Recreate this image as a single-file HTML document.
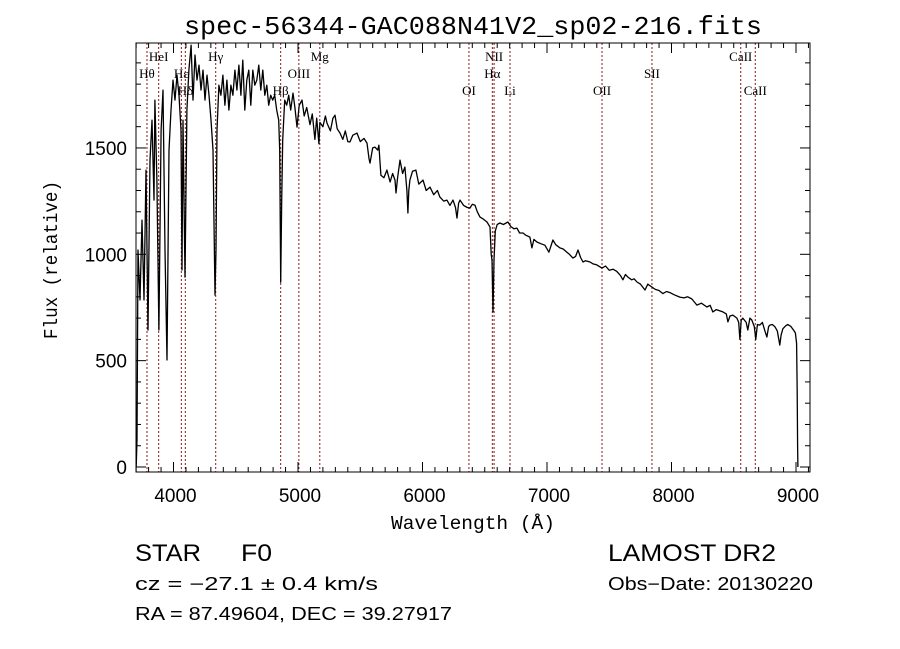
<!DOCTYPE html>
<html><head><meta charset="utf-8"><style>
html,body{margin:0;padding:0;background:#fff;width:900px;height:649px;overflow:hidden}
svg{display:block}
text{font-family:"Liberation Sans",sans-serif;fill:#000}
</style></head><body>
<svg id="chart" width="900" height="649" viewBox="0 0 900 649"></svg>
<script>
// ---- data ----
const wavelengths = [3700,3707,3715,3731,3747,3763,3779,3795,3811,3827,3843,3851,3867,3883,3900,3916,3932,3948,3964,3980,3996,4012,4028,4044,4060,4068,4076,4092,4108,4124,4141,4157,4173,4189,4205,4221,4237,4253,4269,4285,4301,4317,4333,4341,4349,4365,4381,4397,4413,4429,4445,4461,4477,4493,4509,4525,4541,4557,4573,4589,4605,4621,4637,4653,4669,4685,4701,4717,4733,4749,4765,4781,4797,4813,4829,4845,4853,4861,4869,4877,4893,4909,4925,4941,
4960,4975,4992,5010,5032,5050,5070,5096,5115,5136,5150,5168,5176,5200,5220,5233,5260,5280,5297,5315,5337,5360,5380,5400,5417,5440,5474,5500,5530,5554,5570,5578,5600,5618,5640,5650,5660,5666,5690,5714,5740,5760,5779,5787,5800,5819,5840,5859,5875,5883,5890,5899,5920,5947,5970,6004,6030,6060,6090,6120,6140,6170,6196,6220,6245,6265,6277,6290,6301,6330,6360,6381,6400,6422,6440,6462,6490,6518,6542,6552,6558,6566,6574,6585,6600,6622,6650,6686,6710,6735,6758,6780,6807,6830,6863,6879,6895,6919,6950,6983,7015,7047,7070,7104,7130,7160,7180,7208,7230,7249,7270,7289,7310,7345,7370,7400,7442,7470,7500,7530,7560,7590,7610,7630,7650,7680,7700,7723,7750,7787,7810,7843,7870,7900,7931,7960,7987,8020,8067,8100,8130,8164,8204,8240,8284,8310,8332,8360,8413,8440,8453,8470,8493,8525,8540,8549,8560,8573,8600,8613,8630,8645,8665,8677,8690,8709,8730,8750,8766,8780,8790,8810,8830,8850,8870,8880,8895,8920,8935,8960,8985,8995,9005,9010,9013,9015];
const fluxes = [0,127,1020,785,1161,785,1396,644,1443,1631,1255,1725,1349,644,1584,1772,1020,503,1490,1678,1819,1725,1842,1748,1584,926,1631,893,1678,1866,1983,1725,1937,1819,1889,1772,1866,1725,1842,1748,1631,1490,808,1020,1584,1795,1748,1842,1701,1819,1678,1795,1748,1866,1772,1889,1748,1913,1678,1819,1866,1701,1866,1795,1819,1889,1772,1866,1748,1795,1701,1748,1725,1748,1678,1631,1490,869,1255,1537,1725,1701,1748,1678,
1758,1690,1598,1700,1725,1650,1690,1610,1660,1540,1640,1520,1620,1600,1650,1617,1580,1640,1654,1590,1570,1540,1580,1530,1528,1560,1570,1530,1545,1523,1450,1429,1500,1504,1490,1513,1420,1372,1360,1396,1340,1380,1349,1288,1360,1443,1380,1410,1300,1194,1300,1349,1390,1396,1330,1349,1300,1316,1280,1300,1269,1250,1255,1230,1255,1220,1170,1240,1255,1230,1220,1217,1235,1231,1200,1175,1165,1152,1128,1000,973,729,973,1110,1140,1147,1140,1152,1130,1120,1123,1100,1100,1090,1081,1030,1070,1058,1050,1043,1010,1067,1045,1030,1025,1010,1000,982,990,1020,985,964,970,964,955,950,935,945,925,930,920,900,880,905,893,880,885,870,860,832,860,846,835,830,815,825,820,810,799,795,800,790,761,770,752,760,729,740,729,720,682,710,714,700,680,600,690,700,680,644,700,691,660,600,670,667,680,640,611,660,667,670,660,640,573,620,650,665,670,660,640,630,580,350,100,0];
const xTicks = [4000,5000,6000,7000,8000,9000];
const yTicks = [0,500,1000,1500];
const lineLabels = ["Hθ","HeI","Hε","Hδ","Hγ","Hβ","OIII","Mg","OI","NII","Hα","Li","OII","SII","CaII","CaII"];
const lineWaves = [3787,3881,4063,4095,4339,4861,5007,5175,6373,6575,6561,6703,7442,7843,8556,8673];
const lineRows = [1,0,1,2,0,2,1,0,2,0,1,2,2,1,0,2];

// ---- axes ----
const L=136,R=810,T=43,B=472;
const X = w => 173.5 + (w-4000)*0.1245;
const Y = f => 467 - f*0.2127;
const NS="http://www.w3.org/2000/svg";
const svg=document.getElementById('chart');
function mk(tag,attrs,parent){const e=document.createElementNS(NS,tag);for(const k in attrs)e.setAttribute(k,attrs[k]);(parent||svg).appendChild(e);return e;}

const gLines = mk('g',{});


lineWaves.forEach((w,i)=>{
  const x=X(w);
  const ln=mk('line',{x1:x,x2:x,y1:T,y2:B,stroke:'#8b1a1a','stroke-width':1,'stroke-dasharray':'2,2'},gLines);
  
  
  const ty=[61,78,95][lineRows[i]];
  const t=mk('text',{x:x,y:ty,'text-anchor':'middle','font-size':13,style:'font-family:"Liberation Serif",serif'},gLines);
  t.textContent=lineLabels[i];
  
  
});

let d='';
wavelengths.forEach((w,i)=>{d+=(i?'L':'M')+X(w).toFixed(1)+','+Math.min(B,Y(fluxes[i])).toFixed(1);});
const sp=mk('path',{d:d,fill:'none',stroke:'#000','stroke-width':1.3,'stroke-linejoin':'round'});



const fr=mk('rect',{x:L,y:T,width:R-L,height:B-T,fill:'none',stroke:'#000','stroke-width':1});



const gT=mk('g',{stroke:'#000','stroke-width':1});


for(let w=3700;w<=9100;w+=100){const x=X(w);if(x<L||x>R)continue;const maj=w%1000===0;const len=maj?10:5;
  mk('line',{x1:x,x2:x,y1:B,y2:B-len},gT);mk('line',{x1:x,x2:x,y1:T,y2:T+len},gT);}
for(let f=0;f<=1900;f+=100){const y=Y(f);const maj=f%500===0;const len=maj?10:5;
  mk('line',{x1:L,x2:L+len,y1:y,y2:y},gT);mk('line',{x1:R,x2:R-len,y1:y,y2:y},gT);}
xTicks.forEach(w=>{const t=mk('text',{x:X(w)+2,y:502,'text-anchor':'middle','font-size':19});t.textContent=w;
  });
yTicks.forEach(f=>{const t=mk('text',{x:127,y:Y(f)+7,'text-anchor':'end','font-size':19});t.textContent=f;
  });
</script>
<svg width="900" height="649" style="position:absolute;left:0;top:0">
<text x="473" y="34" text-anchor="middle" font-size="26" textLength="578" lengthAdjust="spacingAndGlyphs" style='font-family:"Liberation Mono",monospace'>spec-56344-GAC088N41V2_sp02-216.fits</text>
<text x="473" y="529" text-anchor="middle" font-size="19" textLength="164" lengthAdjust="spacingAndGlyphs" style='font-family:"Liberation Mono",monospace'>Wavelength (Å)</text>
<text x="0" y="0" text-anchor="middle" font-size="19" textLength="158" lengthAdjust="spacingAndGlyphs" transform="translate(57,260) rotate(-90)" style='font-family:"Liberation Mono",monospace'>Flux (relative)</text>
<text x="135" y="561" font-size="24" textLength="66" lengthAdjust="spacingAndGlyphs">STAR</text>
<text x="241" y="561" font-size="24" textLength="31" lengthAdjust="spacingAndGlyphs">F0</text>
<text x="608" y="561" font-size="24" textLength="168" lengthAdjust="spacingAndGlyphs">LAMOST DR2</text>
<text x="135" y="590" font-size="18" textLength="243" lengthAdjust="spacingAndGlyphs">cz = −27.1 ± 0.4 km/s</text>
<text x="608" y="590" font-size="18" textLength="205" lengthAdjust="spacingAndGlyphs">Obs−Date: 20130220</text>
<text x="135" y="620" font-size="18" textLength="317" lengthAdjust="spacingAndGlyphs">RA =  87.49604, DEC =  39.27917</text>
</svg>
</body></html>
